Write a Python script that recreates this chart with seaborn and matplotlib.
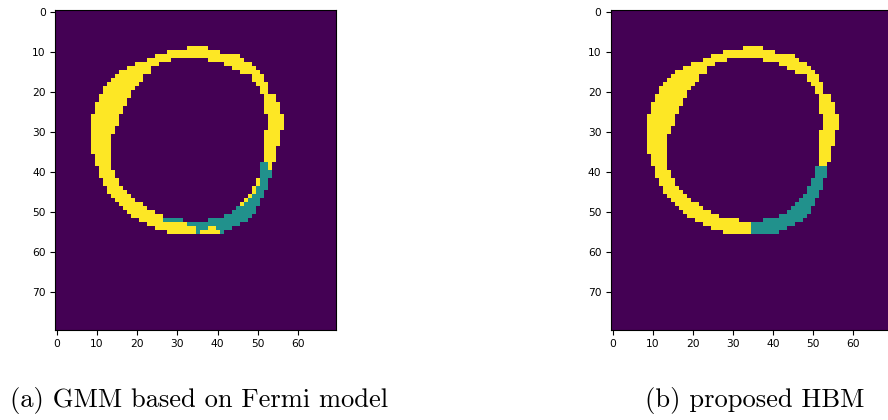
import numpy as np
import matplotlib
matplotlib.use("Agg")
import matplotlib.pyplot as plt
import seaborn as sns

# ---------------- data ----------------
n_rows, n_cols = 80, 70
tick_values = [0, 10, 20, 30, 40, 50, 60, 70]
captions = ["(a) GMM based on Fermi model", "(b) proposed HBM"]

# foreground ring: per row, inclusive column runs
ring_rows = list(range(9, 56))
ring_runs = [
    [(33, 37)],                 # 9
    [(28, 40)],                 # 10
    [(25, 45)],                 # 11
    [(23, 28), (38, 46)],       # 12
    [(20, 25), (42, 48)],       # 13
    [(18, 23), (44, 49)],       # 14
    [(16, 23), (46, 50)],       # 15
    [(15, 21), (49, 51)],       # 16
    [(14, 21), (49, 51)],       # 17
    [(13, 20), (50, 52)],       # 18
    [(12, 19), (51, 52)],       # 19
    [(12, 18), (51, 52)],       # 20
    [(11, 18), (52, 54)],       # 21
    [(11, 17), (52, 54)],       # 22
    [(10, 17), (52, 55)],       # 23
    [(10, 16), (52, 55)],       # 24
    [(10, 16), (52, 55)],       # 25
    [(9, 15), (53, 56)],        # 26
    [(9, 15), (53, 56)],        # 27
    [(9, 15), (53, 56)],        # 28
    [(9, 14), (53, 56)],        # 29
    [(9, 14), (52, 55)],        # 30
    [(9, 13), (52, 55)],        # 31
    [(9, 13), (52, 55)],        # 32
    [(9, 13), (52, 55)],        # 33
    [(9, 13), (52, 54)],        # 34
    [(9, 13), (52, 54)],        # 35
    [(10, 13), (52, 54)],       # 36
    [(10, 13), (52, 54)],       # 37
    [(10, 13), (52, 53)],       # 38
    [(11, 13), (51, 53)],       # 39
    [(11, 14), (51, 53)],       # 40
    [(11, 14), (51, 53)],       # 41
    [(12, 15), (50, 52)],       # 42
    [(12, 15), (50, 52)],       # 43
    [(13, 16), (49, 52)],       # 44
    [(13, 17), (49, 51)],       # 45
    [(14, 18), (48, 51)],       # 46
    [(15, 19), (47, 50)],       # 47
    [(16, 21), (46, 50)],       # 48
    [(17, 22), (45, 49)],       # 49
    [(18, 24), (44, 49)],       # 50
    [(19, 26), (42, 48)],       # 51
    [(21, 31), (38, 47)],       # 52
    [(23, 45)],                 # 53
    [(25, 43)],                 # 54
    [(28, 41)],                 # 55
]

# teal class in panel (a)
teal_a_rows = list(range(38, 56))
teal_a_runs = [
    [(51, 52)],                 # 38
    [(51, 52)],                 # 39
    [(51, 53)],                 # 40
    [(51, 53)],                 # 41
    [(51, 52)],                 # 42
    [(51, 52)],                 # 43
    [(50, 52)],                 # 44
    [(50, 51)],                 # 45
    [(49, 51)],                 # 46
    [(48, 50)],                 # 47
    [(47, 50)],                 # 48
    [(45, 49)],                 # 49
    [(44, 49)],                 # 50
    [(42, 48)],                 # 51
    [(27, 31), (38, 47)],       # 52
    [(33, 45)],                 # 53
    [(35, 37), (40, 43)],       # 54
    [(35, 35), (41, 41)],       # 55
]

# teal class in panel (b)
teal_b_rows = list(range(39, 56))
teal_b_runs = [
    [(51, 53)],                 # 39
    [(51, 53)],                 # 40
    [(51, 53)],                 # 41
    [(50, 52)],                 # 42
    [(50, 52)],                 # 43
    [(49, 52)],                 # 44
    [(49, 51)],                 # 45
    [(48, 51)],                 # 46
    [(47, 50)],                 # 47
    [(46, 50)],                 # 48
    [(45, 49)],                 # 49
    [(44, 49)],                 # 50
    [(42, 48)],                 # 51
    [(38, 47)],                 # 52
    [(35, 45)],                 # 53
    [(35, 43)],                 # 54
    [(35, 41)],                 # 55
]

BACKGROUND, TEAL, YELLOW = 0, 1, 2


def build_mask(teal_rows, teal_runs):
    m = np.full((n_rows, n_cols), BACKGROUND, dtype=float)
    for r, runs in zip(ring_rows, ring_runs):
        for a, b in runs:
            m[r, a:b + 1] = YELLOW
    for r, runs in zip(teal_rows, teal_runs):
        for a, b in runs:
            m[r, a:b + 1] = TEAL
    return m


masks = [build_mask(teal_a_rows, teal_a_runs), build_mask(teal_b_rows, teal_b_runs)]

# ---------------- figure ----------------
W, H = 888, 420
fig = plt.figure(figsize=(W / 100, H / 100), dpi=100)
fig.patch.set_facecolor("white")

axes_px = [(55, 10, 281, 320), (610.5, 10, 281, 320)]
caption_px = [(10, 400), (645, 400)]

for mask, (x0, y0, w, h), cap, (cx, cy) in zip(masks, axes_px, captions, caption_px):
    ax = fig.add_axes([x0 / W, 1 - (y0 + h) / H, w / W, h / H])
    sns.heatmap(mask, ax=ax, cmap="viridis", vmin=0, vmax=2, cbar=False,
                xticklabels=False, yticklabels=False, linewidths=0,
                rasterized=True)
    for s in ax.spines.values():
        s.set_visible(True)
        s.set_linewidth(0.8)
        s.set_color("black")
    xt = [t for t in tick_values if t < n_cols]
    yt = [t for t in tick_values if t < n_rows]
    ax.set_xticks([t + 0.5 for t in xt])
    ax.set_xticklabels([str(t) for t in xt], rotation=0)
    ax.set_yticks([t + 0.5 for t in yt])
    ax.set_yticklabels([str(t) for t in yt], rotation=0)
    ax.tick_params(axis="both", direction="out", length=3.5, width=0.8,
                   labelsize=7.7, colors="black", pad=3,
                   bottom=True, left=True, labelbottom=True, labelleft=True)
    ax.set_xlim(0, n_cols)
    ax.set_ylim(n_rows, 0)
    fig.text(cx / W, 1 - cy / H, cap, family="cmr10", fontsize=19.1,
             ha="left", va="center", color="black")

fig.savefig("out.png", dpi=100)
